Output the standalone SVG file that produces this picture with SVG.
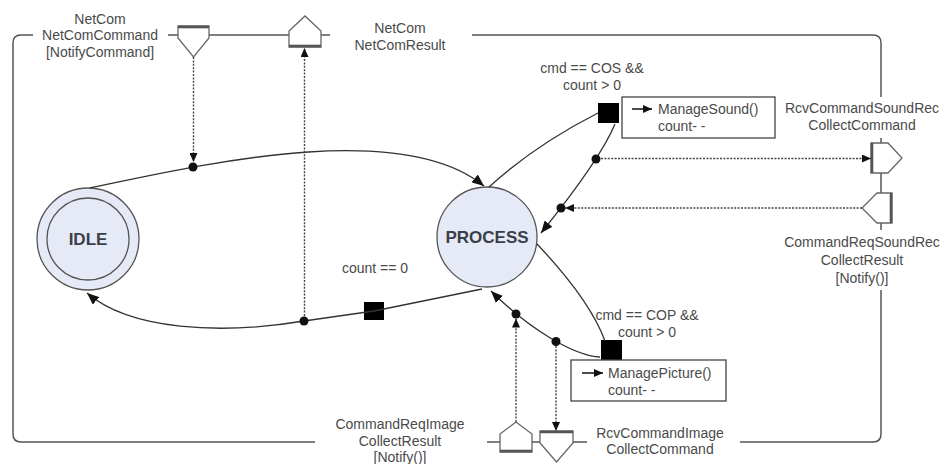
<svg xmlns="http://www.w3.org/2000/svg" width="944" height="464" viewBox="0 0 944 464">
<style>
text{font-family:"Liberation Sans",Arial,sans-serif;font-size:14px;fill:#4a4a4a}
.c{text-anchor:middle}
.st{font-size:17px;font-weight:bold;fill:#3a3f4a;text-anchor:middle}
.frame{fill:none;stroke:#555;stroke-width:1.5}
.port{fill:#fff;stroke:#666;stroke-width:1.3}
.pe{stroke:#555;stroke-width:2.6}
.state{fill:#e6eaf6;stroke:#555;stroke-width:1.3}
.tr{fill:none;stroke:#333;stroke-width:1.3}
.sig{fill:none;stroke:#444;stroke-width:1.4;stroke-dasharray:2 1.4}
.dot{fill:#111}
.sq{fill:#000}
.act{fill:#fff;stroke:#444;stroke-width:1.3}
</style>
<defs>
<marker id="arr" viewBox="0 0 12 10" refX="12" refY="5" markerWidth="12" markerHeight="10" markerUnits="userSpaceOnUse" orient="auto"><path d="M0,0 L12,5 L0,10 z" fill="#111"/></marker>
<marker id="sarr" viewBox="0 0 9 8" refX="9" refY="4" markerWidth="9" markerHeight="8" markerUnits="userSpaceOnUse" orient="auto"><path d="M0,0 L9,4 L0,8 z" fill="#111"/></marker>
</defs>

<g id="frame">
<path class="frame" d="M33 35 L21 35 Q13 35 13 43 L13 434 Q13 442 21 442 L315 442"/>
<path class="frame" d="M168 35 L178 35 M209 35 L289 35 M321 35 L330 35"/>
<path class="frame" d="M472 35 L873 35 Q881 35 881 43 L881 97"/>
<path class="frame" d="M881 138 L881 143 M881 173 L881 193 M881 223 L881 230"/>
<path class="frame" d="M881 290 L881 434 Q881 442 873 442 L740 442"/>
<path class="frame" d="M587 442 L573 442 M540 442 L532 442 M500 442 L487 442"/>
</g>

<g id="port-netcomcommand">
<polygon class="port" points="178,26 209,26 209,38 193.5,57 178,38"/>
<line class="pe" x1="178" y1="27" x2="209" y2="27"/>
<text class="c" x="100" y="24">NetCom</text>
<text class="c" x="100" y="40">NetComCommand</text>
<text class="c" x="100" y="57">[NotifyCommand]</text>
</g>
<g id="port-netcomresult">
<polygon class="port" points="289,47 321,47 321,31 305,16 289,31"/>
<line class="pe" x1="289" y1="46" x2="321" y2="46"/>
<text class="c" x="400" y="33">NetCom</text>
<text class="c" x="400" y="50">NetComResult</text>
</g>
<g id="port-rcvcommandsoundrec">
<polygon class="port" points="871,143 888,143 902,158 888,173 871,173"/>
<line class="pe" x1="872" y1="143" x2="872" y2="173"/>
<text class="c" x="862" y="113">RcvCommandSoundRec</text>
<text class="c" x="862" y="130">CollectCommand</text>
</g>
<g id="port-commandreqsoundrec">
<polygon class="port" points="892,193 892,223 877,223 862,208 877,193"/>
<line class="pe" x1="891" y1="193" x2="891" y2="223"/>
<text class="c" x="862" y="247">CommandReqSoundRec</text>
<text class="c" x="862" y="265">CollectResult</text>
<text class="c" x="862" y="283">[Notify()]</text>
</g>
<g id="port-rcvcommandimage">
<polygon class="port" points="540,431 573,431 573,443 556.5,462 540,443"/>
<line class="pe" x1="540" y1="432" x2="573" y2="432"/>
<text class="c" x="660" y="438">RcvCommandImage</text>
<text class="c" x="660" y="454">CollectCommand</text>
</g>
<g id="port-commandreqimage">
<polygon class="port" points="500,452 532,452 532,434 516,422 500,434"/>
<line class="pe" x1="500" y1="451" x2="532" y2="451"/>
<text class="c" x="400" y="429">CommandReqImage</text>
<text class="c" x="400" y="446">CollectResult</text>
<text class="c" x="400" y="462">[Notify()]</text>
</g>

<g id="state-idle">
<circle class="state" cx="88" cy="239" r="51"/>
<circle fill="none" stroke="#555" stroke-width="1.3" cx="88" cy="239" r="41"/>
<text class="st" x="88" y="245">IDLE</text>
</g>
<g id="state-process">
<circle class="state" cx="487" cy="237" r="50"/>
<text class="st" x="487" y="243">PROCESS</text>
</g>

<g id="choice-cos">
<rect class="sq" x="598" y="103" width="21" height="20"/>
<text class="c" x="592" y="73">cmd == COS &amp;&amp;</text>
<text class="c" x="592" y="90">count &gt; 0</text>
</g>
<g id="action-sound">
<rect class="act" x="622" y="97" width="153" height="41"/>
<line x1="632" y1="109" x2="652" y2="109" stroke="#111" stroke-width="1.5" marker-end="url(#sarr)"/>
<text x="658" y="114">ManageSound()</text>
<text x="658" y="131">count- -</text>
</g>
<g id="choice-cop">
<rect class="sq" x="601" y="340" width="21" height="20"/>
<text class="c" x="647" y="320">cmd == COP &amp;&amp;</text>
<text class="c" x="647" y="337">count &gt; 0</text>
</g>
<g id="action-picture">
<rect class="act" x="571" y="360" width="155" height="41"/>
<line x1="582" y1="373" x2="603" y2="373" stroke="#111" stroke-width="1.5" marker-end="url(#sarr)"/>
<text x="608" y="378">ManagePicture()</text>
<text x="608" y="395">count- -</text>
</g>
<g id="choice-zero">
<rect class="sq" x="364" y="302" width="20" height="18"/>
<text class="c" x="375" y="273">count == 0</text>
</g>

<g id="connectors">
<path class="tr" d="M90 188 C200 165 400 118 484 186" marker-end="url(#arr)"/>
<path class="tr" d="M482 289 L374 311 L304 321 C220 335 130 330 87 293" marker-end="url(#arr)"/>
<path class="tr" d="M489 187 Q535 145 598 113"/>
<path class="tr" d="M615 124 Q600 160 541 233" marker-end="url(#arr)"/>
<path class="tr" d="M537 244 Q590 300 605 341"/>
<path class="tr" d="M600 357 C575 356 530 330 491 291" marker-end="url(#arr)"/>

<circle class="dot" cx="193" cy="167" r="4.5"/>
<circle class="dot" cx="304" cy="321" r="4.5"/>
<circle class="dot" cx="596" cy="159" r="4.5"/>
<circle class="dot" cx="561" cy="208" r="4.5"/>
<circle class="dot" cx="556" cy="341.5" r="4.5"/>
<circle class="dot" cx="516" cy="314" r="4.5"/>

<path class="sig" d="M193.5 57 L193.5 162" marker-end="url(#sarr)"/>
<path class="sig" d="M304.5 316 L304.5 48" marker-end="url(#sarr)"/>
<path class="sig" d="M601 158.5 L871 158.5" marker-end="url(#sarr)"/>
<path class="sig" d="M862 208 L565 208" marker-end="url(#sarr)"/>
<path class="sig" d="M516 422 L516 318.5" marker-end="url(#sarr)"/>
<path class="sig" d="M556 346 L556 431" marker-end="url(#sarr)"/>
</g>
</svg>
